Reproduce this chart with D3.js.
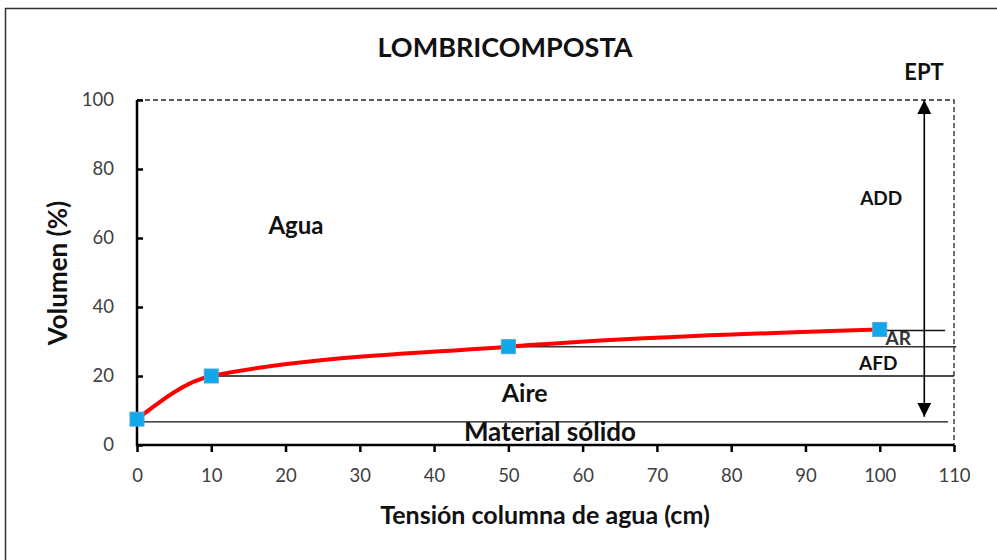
<!DOCTYPE html>
<html>
<head>
<meta charset="utf-8">
<script src="https://cdn.jsdelivr.net/npm/d3@7"></script>
<style>
  body { margin: 0; background: #fff; }
  svg { display: block; }
</style>
</head>
<body>
<div id="chart"></div>
<script>
// retention curve data
var tension = [0, 10, 50, 100];
var volumen = [7.5, 20, 28.5, 33.5];
var xTicks = [0, 10, 20, 30, 40, 50, 60, 70, 80, 90, 100, 110];
var yTicks = [0, 20, 40, 60, 80, 100];

// horizontal reference levels (volume %, from x to x)
var levelY = [6.7, 20, 28.5, 33.2];
var levelFrom = [0, 10, 50, 100];
var levelTo = [109.2, 110, 110.3, 108.8];

// zone labels [text, x, y]
var zoneText = ["Agua", "ADD", "AR", "AFD", "Aire", "Material sólido"];
var zoneX = [21.4, 100.2, 102.5, 99.8, 52.2, 55.6];
var zoneY = [63.8, 71.6, 31, 23.8, 15.1, 3.8];
var zoneSize = [24, 19, 19, 19, 25, 26];

var eptTop = 100, eptBottom = 8.2, eptX = 106;

function drawChart() {
    var W = 997, H = 560;
    var font = "Lato, 'Open Sans', sans-serif";

    var svg = d3.select("#chart").append("svg")
        .attr("width", W)
        .attr("height", H);

    svg.append("rect")
        .attr("width", W).attr("height", H)
        .attr("fill", "#fff");

    // outer chart frame
    svg.append("rect")
        .attr("x", 5.5).attr("y", 8.5)
        .attr("width", W + 10).attr("height", H + 10)
        .attr("fill", "none")
        .attr("stroke", "#333")
        .attr("stroke-width", 1.5);

    var x = d3.scaleLinear().domain([0, 110]).range([137, 954]);
    var y = d3.scaleLinear().domain([0, 100]).range([445, 100]);

    // title
    svg.append("text")
        .attr("x", 505).attr("y", 57)
        .attr("text-anchor", "middle")
        .style("font-family", font)
        .style("font-size", "27px")
        .style("font-weight", "bold")
        .attr("fill", "#111")
        .text("LOMBRICOMPOSTA");

    // dashed EPT box
    svg.append("path")
        .attr("d", "M" + x(0) + "," + y(100) + "H" + x(110) + "V" + y(0))
        .attr("fill", "none")
        .attr("stroke", "#222")
        .attr("stroke-width", 1.3)
        .attr("stroke-dasharray", "5,3");

    // level lines
    levelY.forEach(function (v, i) {
        svg.append("line")
            .attr("x1", x(levelFrom[i])).attr("x2", x(levelTo[i]))
            .attr("y1", y(v)).attr("y2", y(v))
            .attr("stroke", i == 2 ? "#333" : "#111")
            .attr("stroke-width", 1.4);
    });

    // double arrow
    var defs = svg.append("defs");
    defs.append("marker")
        .attr("id", "arr")
        .attr("viewBox", "0 0 10 10")
        .attr("refX", 10).attr("refY", 5)
        .attr("markerWidth", 14).attr("markerHeight", 14)
        .attr("markerUnits", "userSpaceOnUse")
        .attr("orient", "auto-start-reverse")
        .append("path")
        .attr("d", "M0,0L10,5L0,10Z")
        .attr("fill", "#000");

    svg.append("line")
        .attr("x1", x(eptX)).attr("x2", x(eptX))
        .attr("y1", y(eptTop)).attr("y2", y(eptBottom))
        .attr("stroke", "#000")
        .attr("stroke-width", 1.6)
        .attr("marker-start", "url(#arr)")
        .attr("marker-end", "url(#arr)");

    // axes
    var xAxis = svg.append("g")
        .attr("transform", "translate(0," + y(0) + ")")
        .call(d3.axisBottom(x).tickValues(xTicks).tickSize(7).tickPadding(17));
    var yAxis = svg.append("g")
        .attr("transform", "translate(" + x(0) + ",0)")
        .call(d3.axisRight(y).tickValues(yTicks).tickSize(6).tickFormat(""));

    [xAxis, yAxis].forEach(function (g) {
        g.select(".domain").attr("stroke", "#000").attr("stroke-width", 2.5);
        g.selectAll(".tick line").attr("stroke", "#000").attr("stroke-width", 2.5);
    });
    yAxis.select(".domain").attr("d", "M0," + y(100) + "V" + (y(0) + 1));
    xAxis.select(".domain").attr("d", "M" + (x(0) - 1) + ",0H" + x(110));

    xAxis.selectAll(".tick text")
        .style("font-family", font)
        .style("font-size", "18.5px")
        .attr("fill", "#404040");

    svg.selectAll(".ytick")
        .data(yTicks)
        .enter().append("text")
        .attr("class", "ytick")
        .attr("x", 114)
        .attr("y", function (d) { return y(d); })
        .attr("dy", "0.35em")
        .attr("text-anchor", "end")
        .style("font-family", font)
        .style("font-size", "18.5px")
        .attr("fill", "#404040")
        .text(function (d) { return d; });

    // axis titles
    svg.append("text")
        .attr("x", 545).attr("y", 524)
        .attr("text-anchor", "middle")
        .style("font-family", font)
        .style("font-size", "25px")
        .style("font-weight", "bold")
        .attr("fill", "#111")
        .text("Tensión columna de agua (cm)");

    svg.append("text")
        .attr("transform", "translate(67,273) rotate(-90)")
        .attr("text-anchor", "middle")
        .style("font-family", font)
        .style("font-size", "26px")
        .style("font-weight", "bold")
        .attr("fill", "#111")
        .text("Volumen (%)");

    // EPT label
    svg.append("text")
        .attr("x", 924).attr("y", 80)
        .attr("text-anchor", "middle")
        .style("font-family", font)
        .style("font-size", "22px")
        .style("font-weight", "bold")
        .attr("fill", "#111")
        .text("EPT");

    // zone labels
    zoneText.forEach(function (t, i) {
        svg.append("text")
            .attr("x", x(zoneX[i])).attr("y", y(zoneY[i]))
            .attr("dy", "0.36em")
            .attr("text-anchor", "middle")
            .style("font-family", font)
            .style("font-size", zoneSize[i] + "px")
            .style("font-weight", "bold")
            .attr("fill", i == 2 ? "#333" : "#111")
            .text(t);
    });

    // red curve
    var pts = tension.map(function (t, i) { return [t, volumen[i]]; });
    var line = d3.line()
        .x(function (d) { return x(d[0]); })
        .y(function (d) { return y(d[1]); })
        .curve(d3.curveMonotoneX);

    svg.append("path")
        .datum(pts)
        .attr("fill", "none")
        .attr("stroke", "#ff0000")
        .attr("stroke-width", 4)
        .attr("d", line);

    svg.selectAll(".pt")
        .data(pts)
        .enter().append("rect")
        .attr("class", "pt")
        .attr("x", function (d) { return x(d[0]) - 7; })
        .attr("y", function (d) { return y(d[1]) - 7; })
        .attr("width", 14).attr("height", 14)
        .attr("fill", "#10a8e8")
        .attr("stroke", "#4aa8dc")
        .attr("stroke-width", 1);
}

drawChart();
</script>
</body>
</html>
